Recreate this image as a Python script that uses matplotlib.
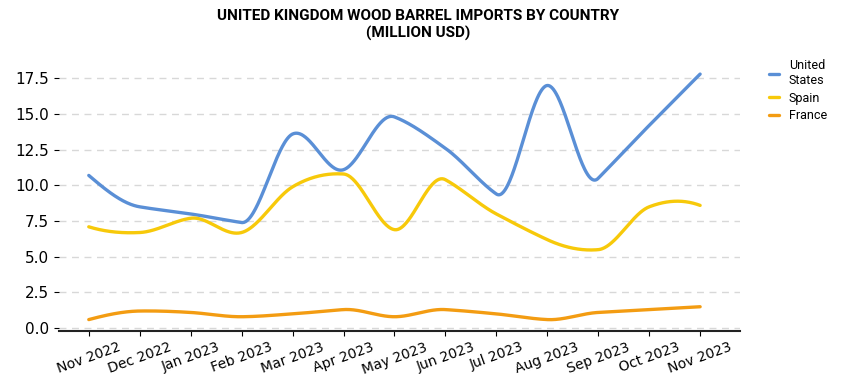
import numpy as np
import matplotlib
matplotlib.use("Agg")
import matplotlib.pyplot as plt

months = ["Nov 2022", "Dec 2022", "Jan 2023", "Feb 2023", "Mar 2023", "Apr 2023",
          "May 2023", "Jun 2023", "Jul 2023", "Aug 2023", "Sep 2023", "Oct 2023", "Nov 2023"]
united_states = [10.7, 8.5, 8.0, 7.4, 13.6, 11.1, 14.8, 12.6, 9.4, 17.0, 10.5, 14.2, 17.8]
spain = [7.1, 6.7, 7.7, 6.7, 9.9, 10.8, 6.9, 10.4, 8.0, 6.2, 5.5, 8.5, 8.6]
france = [0.6, 1.2, 1.1, 0.8, 1.0, 1.3, 0.8, 1.3, 1.0, 0.6, 1.1, 1.3, 1.5]
yticks = [0.0, 2.5, 5.0, 7.5, 10.0, 12.5, 15.0, 17.5]


def akima(x, y, xs):
    x = np.asarray(x, float); y = np.asarray(y, float)
    h = np.diff(x); m = np.diff(y) / h
    n = len(m)
    me = np.empty(n + 4)
    me[2:n + 2] = m
    me[1] = 2 * m[0] - m[1]; me[0] = 2 * me[1] - m[0]
    me[n + 2] = 2 * m[-1] - m[-2]; me[n + 3] = 2 * me[n + 2] - m[-1]
    t = np.empty(len(y))
    for i in range(len(y)):
        a, b, c, d = me[i], me[i + 1], me[i + 2], me[i + 3]
        w1 = abs(d - c); w2 = abs(b - a)
        t[i] = (b + c) / 2 if w1 + w2 == 0 else (w1 * b + w2 * c) / (w1 + w2)
    idx = np.clip(np.searchsorted(x, xs) - 1, 0, len(x) - 2)
    s = (xs - x[idx]) / h[idx]
    h00 = 2 * s**3 - 3 * s**2 + 1; h10 = s**3 - 2 * s**2 + s
    h01 = -2 * s**3 + 3 * s**2; h11 = s**3 - s**2
    return h00 * y[idx] + h10 * h[idx] * t[idx] + h01 * y[idx + 1] + h11 * h[idx] * t[idx + 1]


fig = plt.figure(figsize=(8.51, 3.77), dpi=100)
ax = fig.add_axes([0.069, 0.122, 0.801, 0.708])
x = np.arange(len(months))
xs = np.linspace(0, len(months) - 1, 800)
series = [("United\nStates", united_states, "#5a8fd6"),
          ("Spain", spain, "#f7c90a"),
          ("France", france, "#f39c12")]
for name, vals, col in series:
    ax.plot(xs, akima(x, vals, xs), color=col, lw=2.4, label=name, solid_capstyle="round")

ax.set_xlim(-0.59, 12.79)
ax.set_ylim(-0.2, 18.5)
ax.set_yticks(yticks)
ax.set_yticklabels([f"{v:.1f}" for v in yticks], fontsize=11)
ax.set_xticks(x)
ax.set_xticklabels(months, rotation=20, fontsize=10, ha="center")
ax.tick_params(axis="x", pad=3)
ax.grid(axis="y", linestyle=(0, (5, 4)), color="#d8d8d8", lw=1)
ax.set_axisbelow(True)
for s in ["top", "right", "left"]:
    ax.spines[s].set_visible(False)
ax.spines["bottom"].set_linewidth(1.5)
ax.spines["bottom"].set_color("#222222")

leg = ax.legend(loc="upper left", bbox_to_anchor=(1.025, 1.06), frameon=False,
                handlelength=0.8, handletextpad=0.8, labelspacing=0.35,
                prop={"family": "Roboto", "size": 9})

fig.text(0.491, 0.975, "UNITED KINGDOM WOOD BARREL IMPORTS BY COUNTRY\n(MILLION USD)",
         ha="center", va="top", fontsize=11, fontweight="bold", family="Roboto",
         linespacing=1.2)

fig.savefig("out.png", dpi=100)
